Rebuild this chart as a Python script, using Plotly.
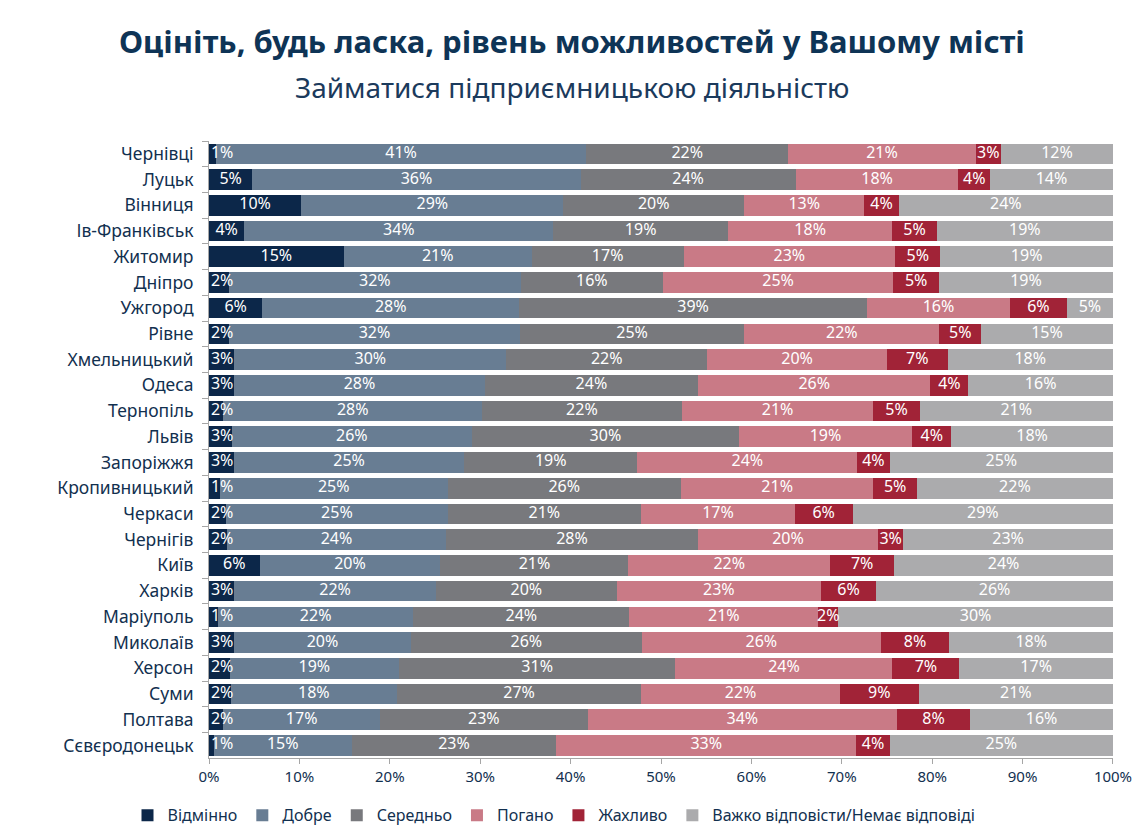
import plotly.graph_objects as go

cities = ["Чернівці", "Луцьк", "Вінниця", "Ів-Франківськ", "Житомир", "Дніпро", "Ужгород",
          "Рівне", "Хмельницький", "Одеса", "Тернопіль", "Львів", "Запоріжжя", "Кропивницький",
          "Черкаси", "Чернігів", "Київ", "Харків", "Маріуполь", "Миколаїв", "Херсон", "Суми",
          "Полтава", "Сєвєродонецьк"]

# shares (%)
excellent = [0.8, 4.8, 10.2, 3.9, 14.9, 2.2, 5.9, 2.2, 2.8, 2.8, 1.6, 2.5, 2.8, 1.2, 1.9, 2.0, 5.6, 2.8, 1.0, 2.8, 2.3, 2.4, 1.6, 0.5]
good      = [40.9, 36.3, 29.0, 34.2, 20.8, 32.3, 28.4, 32.2, 30.1, 27.7, 28.6, 26.6, 25.4, 25.2, 24.5, 24.2, 20.0, 22.3, 21.6, 19.5, 18.7, 18.4, 17.3, 15.3]
average   = [22.4, 23.8, 20.0, 19.3, 16.8, 15.7, 38.5, 24.8, 22.2, 23.6, 22.1, 29.5, 19.2, 25.8, 21.4, 27.9, 20.8, 20.0, 23.9, 25.6, 30.6, 27.0, 23.0, 22.6]
bad       = [20.7, 18.0, 13.3, 18.2, 23.4, 25.5, 15.8, 21.6, 19.9, 25.7, 21.2, 19.2, 24.3, 21.3, 17.0, 19.9, 22.3, 22.6, 20.9, 26.4, 24.0, 22.0, 34.2, 33.2]
terrible  = [2.8, 3.5, 3.8, 4.9, 5.0, 5.05, 6.3, 4.6, 6.7, 4.2, 5.1, 4.3, 3.6, 4.8, 6.4, 2.8, 7.1, 6.1, 2.2, 7.6, 7.4, 8.7, 8.1, 3.7]
no_answer = [12.4, 13.6, 23.7, 19.5, 19.1, 19.25, 5.1, 14.6, 18.3, 16.0, 21.4, 17.9, 24.7, 21.7, 28.8, 23.2, 24.2, 26.2, 30.4, 18.1, 17.0, 21.5, 15.8, 24.7]

# data labels as printed on the chart
excellent_lbl = [1, 5, 10, 4, 15, 2, 6, 2, 3, 3, 2, 3, 3, 1, 2, 2, 6, 3, 1, 3, 2, 2, 2, 1]
good_lbl      = [41, 36, 29, 34, 21, 32, 28, 32, 30, 28, 28, 26, 25, 25, 25, 24, 20, 22, 22, 20, 19, 18, 17, 15]
average_lbl   = [22, 24, 20, 19, 17, 16, 39, 25, 22, 24, 22, 30, 19, 26, 21, 28, 21, 20, 24, 26, 31, 27, 23, 23]
bad_lbl       = [21, 18, 13, 18, 23, 25, 16, 22, 20, 26, 21, 19, 24, 21, 17, 20, 22, 23, 21, 26, 24, 22, 34, 33]
terrible_lbl  = [3, 4, 4, 5, 5, 5, 6, 5, 7, 4, 5, 4, 4, 5, 6, 3, 7, 6, 2, 8, 7, 9, 8, 4]
no_answer_lbl = [12, 14, 24, 19, 19, 19, 5, 15, 18, 16, 21, 18, 25, 22, 29, 23, 24, 26, 30, 18, 17, 21, 16, 25]

series_names = ["Відмінно", "Добре", "Середньо", "Погано", "Жахливо",
                "Важко відповісти/Немає відповіді"]
series_colors = ["#0c2749", "#687d93", "#78797d", "#c97a86", "#a12337", "#ababad"]
series_values = [excellent, good, average, bad, terrible, no_answer]
series_labels = [excellent_lbl, good_lbl, average_lbl, bad_lbl, terrible_lbl, no_answer_lbl]

x_ticks = [0, 10, 20, 30, 40, 50, 60, 70, 80, 90, 100]

FONT = "Noto Sans"
NAVY = "#12304f"

fig = go.Figure()
for name, vals, color in zip(series_names, series_values, series_colors):
    fig.add_trace(go.Bar(
        y=cities, x=vals, name=name, orientation="h",
        marker=dict(color=color, line=dict(width=0)),
        hoverinfo="skip",
    ))

# data labels drawn on top of all bars, centred in each segment
# (kept inside the plot area at the left edge, as in the original)
starts = [0.0] * len(cities)
for vals, lbls in zip(series_values, series_labels):
    centres = [max(s + v / 2, 1.45) for s, v in zip(starts, vals)]
    fig.add_trace(go.Scatter(
        y=cities, x=centres, mode="text",
        text=[f"{l}%" for l in lbls], textposition="middle center",
        textfont=dict(family=FONT, size=16, color="white"),
        showlegend=False, hoverinfo="skip", cliponaxis=False,
    ))
    starts = [s + v for s, v in zip(starts, vals)]

fig.update_layout(
    barmode="stack", bargap=0.2,
    width=1147, height=826,
    margin=dict(l=209, r=34, t=141, b=64),
    paper_bgcolor="white", plot_bgcolor="white",
    font=dict(family=FONT, color=NAVY),
    showlegend=True,
    legend=dict(orientation="h", xref="container", yref="container",
                x=0.483, xanchor="center", y=0.013, yanchor="middle",
                font=dict(family=FONT, size=16, color=NAVY),
                itemwidth=30, traceorder="normal"),
    xaxis=dict(range=[0, 100.001], tickmode="array", tickvals=x_ticks,
               ticktext=[f"{t}%" for t in x_ticks],
               showgrid=False, zeroline=False, showline=True, linecolor="#a6a6a6",
               ticks="outside", ticklen=5, tickcolor="#a6a6a6",
               tickfont=dict(family=FONT, size=15, color=NAVY)),
    yaxis=dict(range=[len(cities) - 0.5, -0.5], autorange=False,
               showgrid=False, showline=True, linecolor="#a6a6a6",
               ticks="outside", tickson="boundaries", ticklen=6, tickcolor="#a6a6a6",
               tickfont=dict(family=FONT, size=17.5, color=NAVY), ticklabelstandoff=11),
    annotations=[
        dict(text="<b>Оцініть, будь ласка, рівень можливостей у Вашому місті</b>",
             xref="paper", yref="paper", x=0.402, y=1 + (141 - 40) / 621,
             xanchor="center", yanchor="middle", showarrow=False,
             font=dict(family=FONT, size=31, color="#0e3456")),
        dict(text="Займатися підприємницькою діяльністю",
             xref="paper", yref="paper", x=0.402, y=1 + (141 - 87) / 621,
             xanchor="center", yanchor="middle", showarrow=False,
             font=dict(family=FONT, size=28, color="#1b3a5c")),
    ],
)

fig.write_html("out.html")
